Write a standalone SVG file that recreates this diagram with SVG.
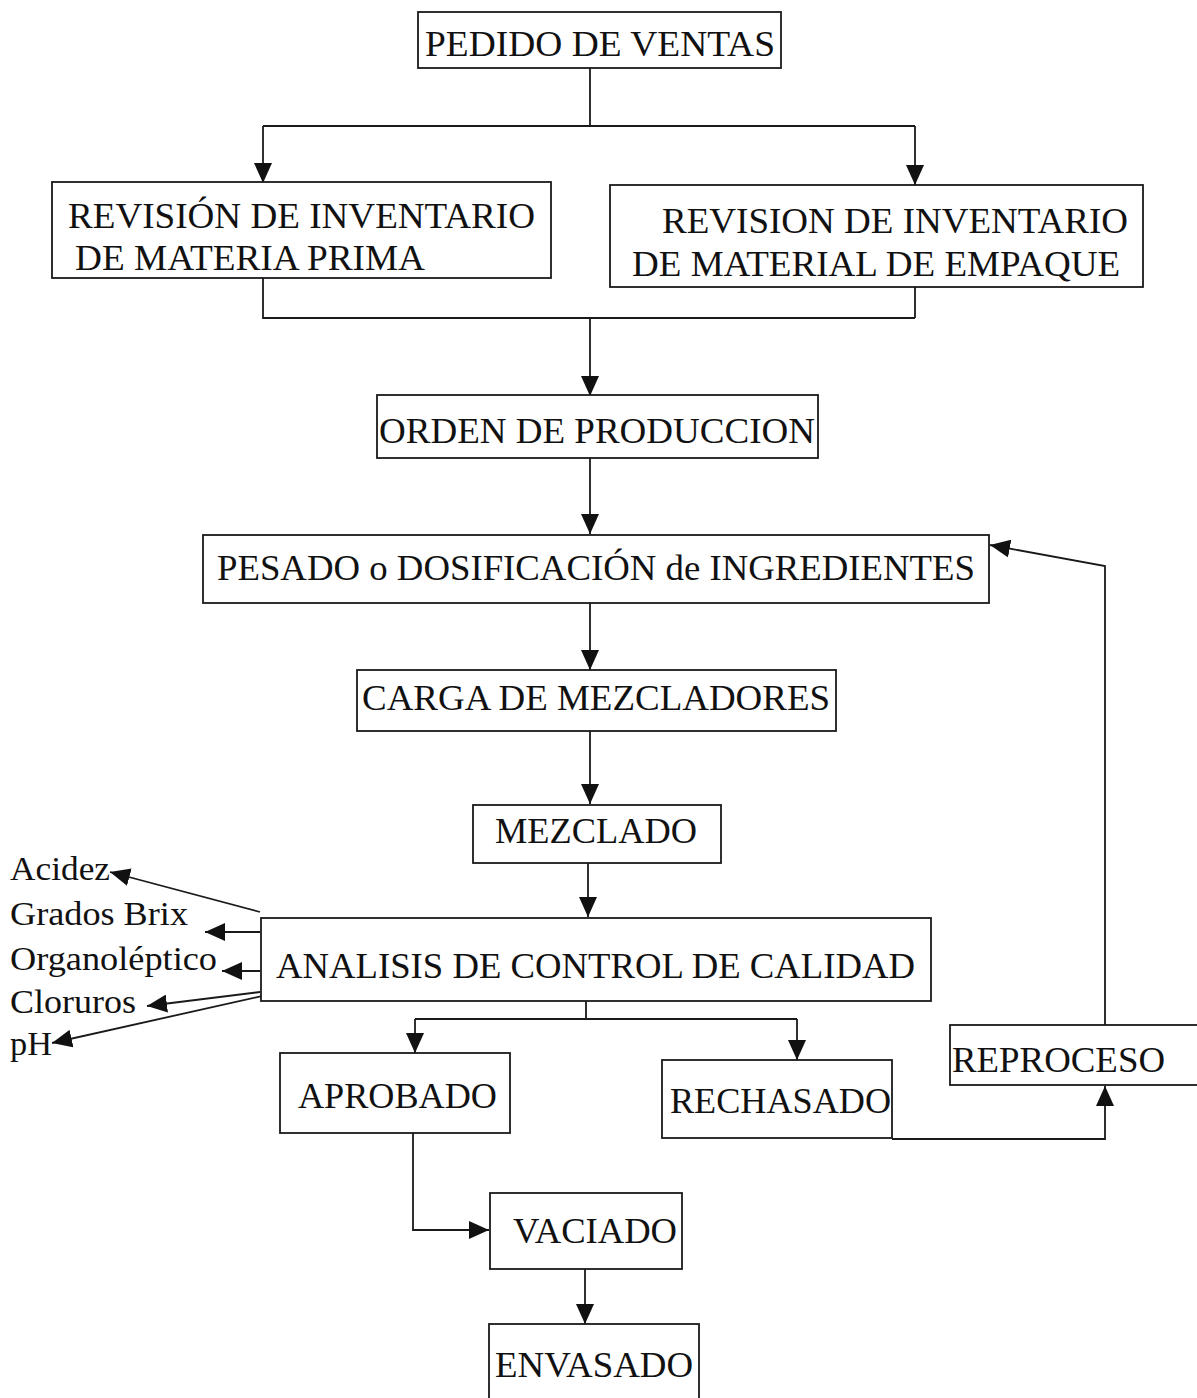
<svg xmlns="http://www.w3.org/2000/svg" width="1197" height="1398" viewBox="0 0 1197 1398">
<style>
.box{fill:#fff;stroke:#1a1a1a;stroke-width:1.8}
.t{font-family:"Liberation Serif","Times New Roman",serif;font-size:36px;fill:#111}
.s{font-family:"Liberation Serif","Times New Roman",serif;font-size:33px;fill:#111}
.c{fill:none;stroke:#1a1a1a;stroke-width:1.8}
</style>
<defs>
<marker id="ah" markerUnits="userSpaceOnUse" markerWidth="22" markerHeight="18" refX="20" refY="9" orient="auto">
<path d="M0,0 L20,9 L0,18 Z" fill="#111"/>
</marker>
</defs>
<rect width="1197" height="1398" fill="#fff"/>
<g id="connectors">
<path class="c" d="M590,68 V126 M263,126 H915"/>
<path class="c" d="M263,126 V183" marker-end="url(#ah)"/>
<path class="c" d="M915,126 V185" marker-end="url(#ah)"/>
<path class="c" d="M263,278 V318 H915 M915,287 V318"/>
<path class="c" d="M590,318 V396" marker-end="url(#ah)"/>
<path class="c" d="M590,458 V534" marker-end="url(#ah)"/>
<path class="c" d="M590,603 V670" marker-end="url(#ah)"/>
<path class="c" d="M590,731 V804" marker-end="url(#ah)"/>
<path class="c" d="M588,863 V917" marker-end="url(#ah)"/>
<path class="c" d="M260,912 L110,872" marker-end="url(#ah)"/>
<path class="c" d="M260,932 H205" marker-end="url(#ah)"/>
<path class="c" d="M260,971 H222" marker-end="url(#ah)"/>
<path class="c" d="M260,992 L147,1006" marker-end="url(#ah)"/>
<path class="c" d="M280,992 L52,1043" marker-end="url(#ah)"/>
<path class="c" d="M586,1001 V1019 M415,1019 H797"/>
<path class="c" d="M415,1019 V1053" marker-end="url(#ah)"/>
<path class="c" d="M797,1019 V1060" marker-end="url(#ah)"/>
<path class="c" d="M413,1133 V1230 H489" marker-end="url(#ah)"/>
<path class="c" d="M585,1269 V1324" marker-end="url(#ah)"/>
<path class="c" d="M892,1139 H1105 V1086" marker-end="url(#ah)"/>
<path class="c" d="M1105,1025 V566 L990,545" marker-end="url(#ah)"/>
</g>
<g id="n1"><rect class="box" x="418" y="12" width="363" height="56"/><text class="t" x="425" y="56" textLength="350" lengthAdjust="spacingAndGlyphs">PEDIDO DE VENTAS</text></g>
<g id="n2"><rect class="box" x="52" y="182" width="499" height="96"/><text class="t" x="68" y="228" textLength="467" lengthAdjust="spacingAndGlyphs">REVISIÓN DE INVENTARIO</text><text class="t" x="75" y="270" textLength="350" lengthAdjust="spacingAndGlyphs">DE MATERIA PRIMA</text></g>
<g id="n3"><rect class="box" x="610" y="185" width="533" height="102"/><text class="t" x="662" y="233" textLength="466" lengthAdjust="spacingAndGlyphs">REVISION DE INVENTARIO</text><text class="t" x="632" y="276" textLength="488" lengthAdjust="spacingAndGlyphs">DE MATERIAL DE EMPAQUE</text></g>
<g id="n4"><rect class="box" x="377" y="395" width="441" height="63"/><text class="t" x="379" y="443" textLength="436" lengthAdjust="spacingAndGlyphs">ORDEN DE PRODUCCION</text></g>
<g id="n5"><rect class="box" x="203" y="535" width="786" height="68"/><text class="t" x="217" y="580" textLength="758" lengthAdjust="spacingAndGlyphs">PESADO o DOSIFICACIÓN de INGREDIENTES</text></g>
<g id="n6"><rect class="box" x="357" y="670" width="479" height="61"/><text class="t" x="362" y="710" textLength="468" lengthAdjust="spacingAndGlyphs">CARGA DE MEZCLADORES</text></g>
<g id="n7"><rect class="box" x="473" y="805" width="248" height="58"/><text class="t" x="495" y="843" textLength="202" lengthAdjust="spacingAndGlyphs">MEZCLADO</text></g>
<g id="n8"><rect class="box" x="261" y="918" width="670" height="83"/><text class="t" x="276" y="978" textLength="639" lengthAdjust="spacingAndGlyphs">ANALISIS DE CONTROL DE CALIDAD</text></g>
<g id="labels">
<text class="s" x="10" y="880" textLength="100" lengthAdjust="spacingAndGlyphs">Acidez</text>
<text class="s" x="10" y="925" textLength="178" lengthAdjust="spacingAndGlyphs">Grados Brix</text>
<text class="s" x="10" y="970" textLength="207" lengthAdjust="spacingAndGlyphs">Organoléptico</text>
<text class="s" x="10" y="1013" textLength="126" lengthAdjust="spacingAndGlyphs">Cloruros</text>
<text class="s" x="10" y="1055" textLength="42" lengthAdjust="spacingAndGlyphs">pH</text>
</g>
<g id="n9"><rect class="box" x="280" y="1053" width="230" height="80"/><text class="t" x="298" y="1108" textLength="199" lengthAdjust="spacingAndGlyphs">APROBADO</text></g>
<g id="n10"><rect class="box" x="662" y="1060" width="230" height="78"/><text class="t" x="670" y="1113" textLength="221" lengthAdjust="spacingAndGlyphs">RECHASADO</text></g>
<g id="n11"><rect class="box" x="950" y="1025" width="260" height="60"/><text class="t" x="952" y="1072" textLength="213" lengthAdjust="spacingAndGlyphs">REPROCESO</text></g>
<g id="n12"><rect class="box" x="490" y="1193" width="192" height="76"/><text class="t" x="513" y="1243" textLength="164" lengthAdjust="spacingAndGlyphs">VACIADO</text></g>
<g id="n13"><rect class="box" x="489" y="1324" width="210" height="90"/><text class="t" x="495" y="1377" textLength="198" lengthAdjust="spacingAndGlyphs">ENVASADO</text></g>
</svg>
